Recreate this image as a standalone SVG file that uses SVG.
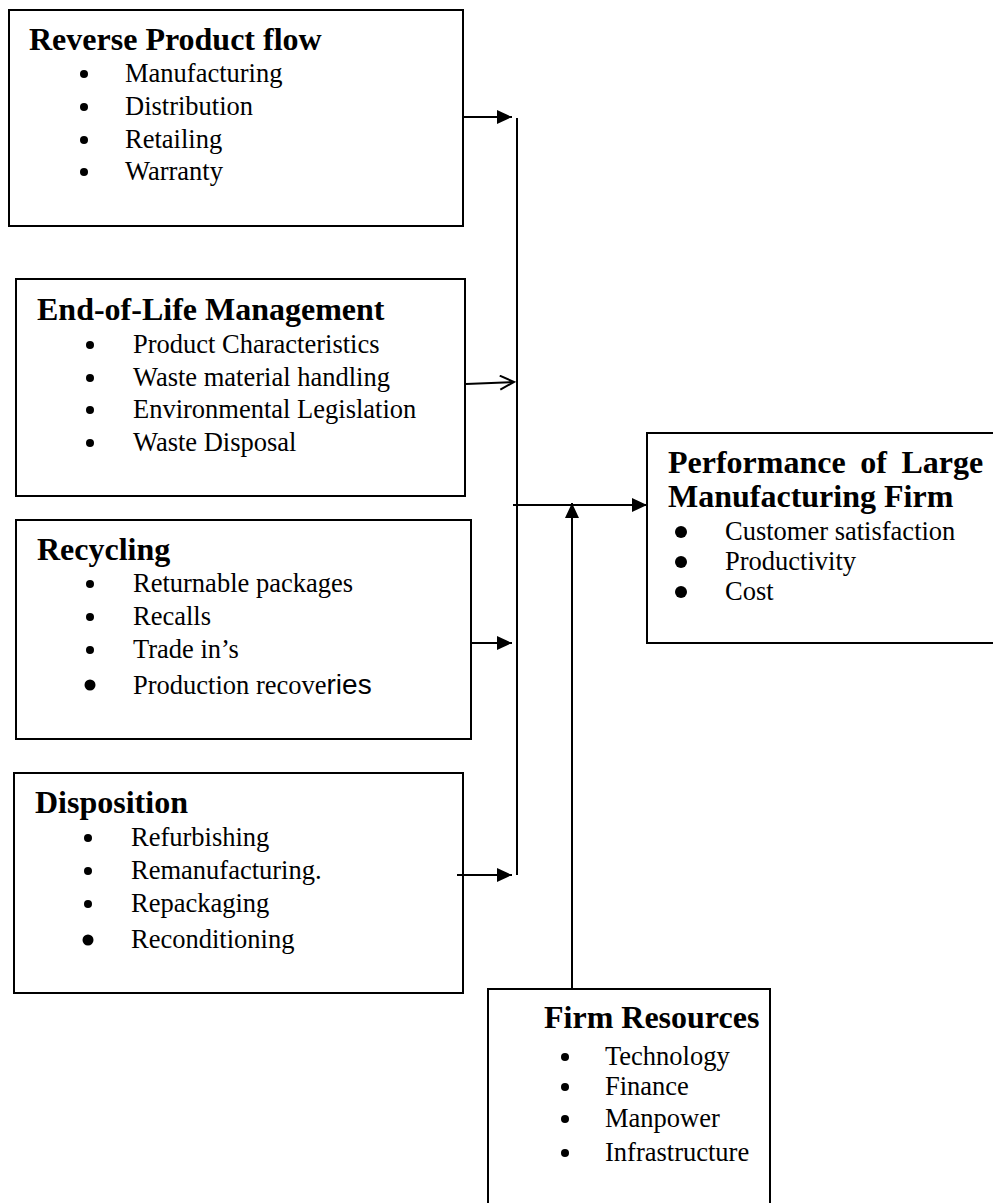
<svg xmlns="http://www.w3.org/2000/svg" width="993" height="1203" viewBox="0 0 993 1203">
  <style>
    .box { fill: #ffffff; stroke: #000000; stroke-width: 2; }
    .title { font-family: "Liberation Serif", "Times New Roman", serif; font-weight: bold; font-size: 32px; fill: #000000; }
    .item { font-family: "Liberation Serif", "Times New Roman", serif; font-size: 26.5px; fill: #000000; }
    .dot { fill: #000000; }
    .wire { stroke: #000000; stroke-width: 2; fill: none; }
  </style>
  <defs>
    <marker id="solid" markerWidth="16" markerHeight="14" refX="15" refY="7" orient="auto" markerUnits="userSpaceOnUse">
      <path d="M0,0 L15,7 L0,14 Z" fill="#000000"/>
    </marker>
    <marker id="open" markerWidth="17" markerHeight="16" refX="15" refY="8" orient="auto" markerUnits="userSpaceOnUse">
      <path d="M1,1 L15,8 L1,15" fill="none" stroke="#000000" stroke-width="2"/>
    </marker>
  </defs>

  <rect width="993" height="1203" fill="#ffffff"/>

  <!-- Reverse Product flow -->
  <g id="reverse-product-flow">
    <rect class="box" x="9" y="10" width="454" height="216"/>
    <text class="title" x="29" y="50">Reverse Product flow</text>
    <circle class="dot" cx="84" cy="74" r="4"/>
    <text class="item" x="125" y="82">Manufacturing</text>
    <circle class="dot" cx="84" cy="107" r="4"/>
    <text class="item" x="125" y="115">Distribution</text>
    <circle class="dot" cx="84" cy="140" r="4"/>
    <text class="item" x="125" y="148">Retailing</text>
    <circle class="dot" cx="84" cy="172" r="4"/>
    <text class="item" x="125" y="180">Warranty</text>
  </g>

  <!-- End-of-Life Management -->
  <g id="end-of-life">
    <rect class="box" x="16" y="279" width="449" height="217"/>
    <text class="title" x="37" y="320">End-of-Life Management</text>
    <circle class="dot" cx="90" cy="345" r="4"/>
    <text class="item" x="133" y="353">Product Characteristics</text>
    <circle class="dot" cx="90" cy="378" r="4"/>
    <text class="item" x="133" y="386">Waste material handling</text>
    <circle class="dot" cx="90" cy="410" r="4"/>
    <text class="item" x="133" y="418">Environmental Legislation</text>
    <circle class="dot" cx="90" cy="443" r="4"/>
    <text class="item" x="133" y="451">Waste Disposal</text>
  </g>

  <!-- Recycling -->
  <g id="recycling">
    <rect class="box" x="16" y="520" width="455" height="219"/>
    <text class="title" x="37" y="560">Recycling</text>
    <circle class="dot" cx="90" cy="584" r="4"/>
    <text class="item" x="133" y="592">Returnable packages</text>
    <circle class="dot" cx="90" cy="617" r="4"/>
    <text class="item" x="133" y="625">Recalls</text>
    <circle class="dot" cx="90" cy="650" r="4"/>
    <text class="item" x="133" y="658">Trade in’s</text>
    <circle class="dot" cx="90" cy="685" r="5.5"/>
    <text class="item" x="133" y="694">Production recove<tspan font-family="Liberation Sans, Arial, sans-serif" font-size="28px">ries</tspan></text>
  </g>

  <!-- Disposition -->
  <g id="disposition">
    <rect class="box" x="14" y="773" width="449" height="220"/>
    <text class="title" x="35" y="813">Disposition</text>
    <circle class="dot" cx="88" cy="838" r="4"/>
    <text class="item" x="131" y="846">Refurbishing</text>
    <circle class="dot" cx="88" cy="871" r="4"/>
    <text class="item" x="131" y="879">Remanufacturing.</text>
    <circle class="dot" cx="88" cy="904" r="4"/>
    <text class="item" x="131" y="912">Repackaging</text>
    <circle class="dot" cx="88" cy="940" r="5.5"/>
    <text class="item" x="131" y="948">Reconditioning</text>
  </g>

  <!-- Performance of Large Manufacturing Firm -->
  <g id="performance">
    <rect class="box" x="647" y="433" width="360" height="210"/>
    <text class="title" x="668" y="473" word-spacing="6.6">Performance of Large</text>
    <text class="title" x="668" y="507">Manufacturing Firm</text>
    <circle class="dot" cx="681" cy="532" r="6"/>
    <text class="item" x="725" y="540">Customer satisfaction</text>
    <circle class="dot" cx="681" cy="562" r="6"/>
    <text class="item" x="725" y="570">Productivity</text>
    <circle class="dot" cx="681" cy="592" r="6"/>
    <text class="item" x="725" y="600">Cost</text>
  </g>

  <!-- Firm Resources -->
  <g id="firm-resources">
    <rect class="box" x="488" y="989" width="282" height="225"/>
    <text class="title" x="544" y="1028">Firm Resources</text>
    <circle class="dot" cx="565" cy="1057" r="4"/>
    <text class="item" x="605" y="1065">Technology</text>
    <circle class="dot" cx="565" cy="1087" r="4"/>
    <text class="item" x="605" y="1095">Finance</text>
    <circle class="dot" cx="565" cy="1119" r="4"/>
    <text class="item" x="605" y="1127">Manpower</text>
    <circle class="dot" cx="565" cy="1153" r="4"/>
    <text class="item" x="605" y="1161">Infrastructure</text>
  </g>

  <!-- Connectors -->
  <g id="connectors">
    <line class="wire" x1="517" y1="118" x2="517" y2="875"/>
    <line class="wire" x1="463" y1="117" x2="512" y2="117" marker-end="url(#solid)"/>
    <line class="wire" x1="466" y1="384" x2="514" y2="382" marker-end="url(#open)"/>
    <line class="wire" x1="471" y1="643" x2="512" y2="643" marker-end="url(#solid)"/>
    <line class="wire" x1="457" y1="875" x2="512" y2="875" marker-end="url(#solid)"/>
    <line class="wire" x1="513" y1="505" x2="647" y2="505" marker-end="url(#solid)"/>
    <line class="wire" x1="572" y1="989" x2="572" y2="503" marker-end="url(#solid)"/>
  </g>
</svg>
